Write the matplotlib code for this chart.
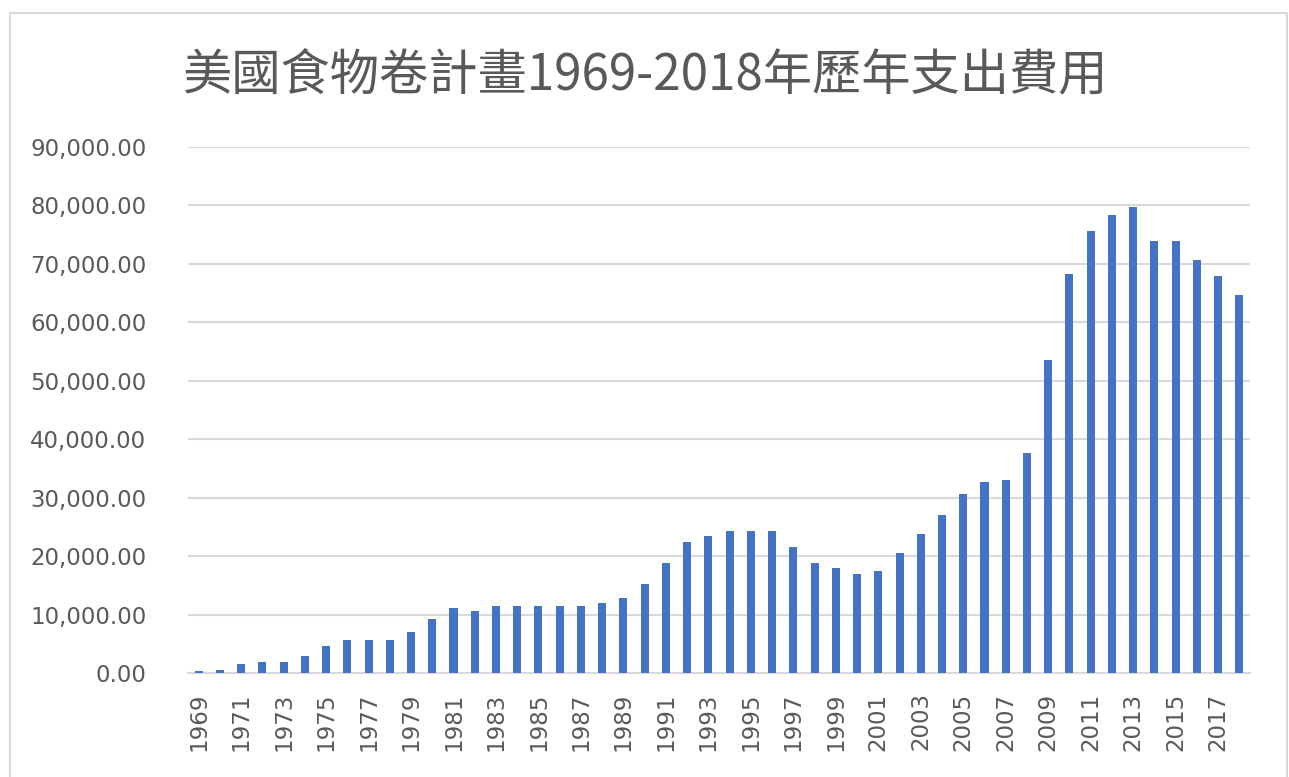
import matplotlib
matplotlib.use("Agg")
import matplotlib.pyplot as plt
from matplotlib.patches import Rectangle
from matplotlib.ticker import FuncFormatter

years = list(range(1969, 2019))
spending = [
    400, 580, 1500, 1900, 1950, 2900, 4680, 5650, 5600, 5600,
    6970, 9240, 11100, 10650, 11470, 11500, 11500, 11500, 11470, 11930,
    12840, 15200, 18800, 22440, 23400, 24310, 24300, 24300, 21500, 18800,
    17900, 17000, 17400, 20600, 23800, 27000, 30700, 32600, 33000, 37600,
    53620, 68280, 75600, 78400, 79800, 73900, 73900, 70700, 67900, 64700,
]
title = "美國食物卷計畫1969-2018年歷年支出費用"
y_ticks = [0, 10000, 20000, 30000, 40000, 50000, 60000, 70000, 80000, 90000]

TEXT = "#595959"
GRID = "#D9D9D9"
BAR = "#4472C4"

plt.rcParams["font.family"] = ["DejaVu Sans", "Noto Sans CJK TC"]

fig = plt.figure(figsize=(12.89, 7.77), dpi=100)
fig.patch.set_facecolor("white")

# chart border
fig.add_artist(Rectangle((10 / 1289, -0.01), (1287 - 10) / 1289, 1 - 13 / 777 + 0.01,
                         transform=fig.transFigure, fill=False,
                         edgecolor=GRID, linewidth=1.5))

ax = fig.add_axes([188 / 1289, 1 - 673 / 777, (1250 - 188) / 1289, (673 - 147) / 777])
x = list(range(len(years)))
ax.bar(x, spending, width=0.38, color=BAR, zorder=3)

ax.set_xlim(-0.5, len(years) - 0.5)
ax.set_ylim(0, 90000)
ax.set_yticks(y_ticks)
ax.yaxis.set_major_formatter(FuncFormatter(lambda v, p: f"{v:,.2f}"))
ax.set_xticks(x[::2])
ax.set_xticklabels([str(y) for y in years[::2]], rotation=90)
ax.tick_params(axis="both", length=0, colors=TEXT, labelsize=16.5)
ax.tick_params(axis="y", pad=30)
ax.tick_params(axis="x", pad=14)
ax.grid(axis="y", color=GRID, linewidth=1.5, zorder=0)
for s in ["top", "right", "left"]:
    ax.spines[s].set_visible(False)
ax.spines["bottom"].set_color(GRID)
ax.spines["bottom"].set_linewidth(1.5)

fig.text(646 / 1289, 1 - 75 / 777, title, ha="center", va="center",
         fontsize=35.5, color=TEXT, family=["Noto Sans CJK TC", "DejaVu Sans"])

fig.savefig("out.png", dpi=100, facecolor="white")
